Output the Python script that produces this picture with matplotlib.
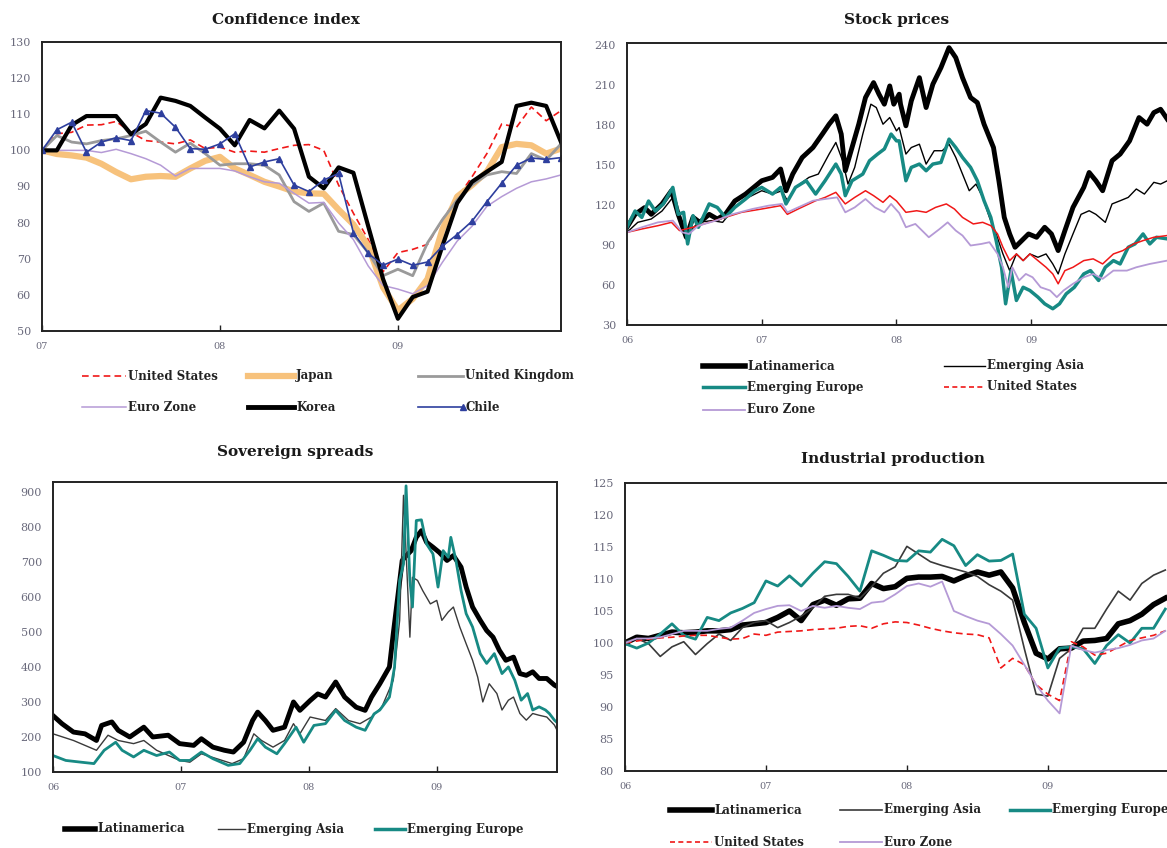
import numpy as np
import matplotlib
matplotlib.use("Agg")
from matplotlib import pyplot as plt
from matplotlib.lines import Line2D

# ---- Confidence index (monthly, Jan 07 - Dec 09) ----
conf_months = np.arange(36)
conf_us = [100, 104.6, 105, 107, 107.1, 108, 105, 102.7, 102.3, 101.8, 102.9, 100.5,
           100.9, 99.5, 99.8, 99.5, 100.5, 101.4, 101.6, 100, 90.4, 82.6, 75.3, 66.4,
           71.7, 72.6, 74, 80.8, 86.8, 92.7, 99.1, 107.3, 106.4, 112, 108.2, 111]
conf_japan = [100, 99, 98.6, 98, 96.3, 94, 92, 92.7, 92.9, 92.7, 95, 97.1,
              98.2, 95, 93.2, 91.3, 90, 88.6, 88.1, 88, 83.6, 79.5, 73.5, 62.1,
              55.7, 58.9, 64.4, 78.1, 87.2, 90.4, 94.1, 100.9, 101.8, 101.4, 99.1, 100.5]
conf_uk = [100, 104.1, 102.3, 101.8, 102.7, 103.2, 104.1, 105.3, 102.3, 99.5, 102, 99.1,
           95.9, 96.3, 96.3, 95.9, 93.2, 85.8, 83.1, 85.4, 77.6, 76.7, 71.7, 65.3,
           67.1, 65.3, 74.4, 80.8, 86.3, 90.4, 93.2, 94.1, 93.6, 99.1, 97.3, 101.8]
conf_euro = [100, 100, 100, 100, 99.4, 100.3, 99.1, 97.7, 95.9, 92.9, 95, 95,
             95, 94.3, 92.7, 91.3, 90.9, 88.1, 85.4, 85.6, 79.9, 75.3, 68, 62.6,
             61.6, 60.3, 62.6, 69, 74.9, 79, 84.5, 87.2, 89.5, 91.3, 92.1, 93.2]
conf_korea = [100, 100, 107, 109.5, 109.5, 109.5, 104.5, 107.3, 114.6, 113.7, 112.3, 109.1,
              106, 101.4, 108.4, 106.1, 111, 106, 92.7, 89.5, 95.3, 93.8, 79, 64.4,
              53.4, 59.4, 60.9, 73.5, 85.4, 91.3, 94.1, 96.8, 112.3, 113.2, 112.3, 102.3]
conf_chile = [100, 105.7, 107.8, 99.5, 102.3, 103.5, 102.7, 111, 110.3, 106.4, 100.5, 100.3,
              101.8, 104.6, 95.4, 96.8, 97.7, 90.4, 88.6, 91.8, 93.6, 77.2, 71.5, 68.2,
              69.9, 68.2, 69.1, 73.5, 76.7, 80.4, 85.8, 90.9, 95.9, 97.9, 97.5, 98]

# ---- Stock prices (years since Jan 06) ----
stk_latam_t = [0, 0.06, 0.13, 0.18, 0.26, 0.33, 0.38, 0.44, 0.49, 0.54, 0.61, 0.67, 0.73, 0.80,
               0.88, 0.94, 1.00, 1.08, 1.14, 1.18, 1.23, 1.30, 1.38, 1.45, 1.50, 1.55, 1.59, 1.62,
               1.67, 1.72, 1.77, 1.83, 1.87, 1.91, 1.95, 1.98, 2.02, 2.03, 2.07, 2.11, 2.17, 2.22,
               2.27, 2.33, 2.39, 2.44, 2.49, 2.55, 2.60, 2.65, 2.72, 2.76, 2.80, 2.84, 2.88, 2.93,
               2.98, 3.04, 3.10, 3.15, 3.20, 3.25, 3.31, 3.39, 3.43, 3.48, 3.53, 3.60, 3.66, 3.73,
               3.80, 3.86, 3.91, 3.96, 4.01]
stk_latam = [103.3, 113, 118, 113, 120.8, 130.7, 113, 95.8, 110.8, 107, 113, 109.5, 113, 123,
             128.2, 133.2, 138.2, 140.7, 147, 130.7, 143.2, 155.6, 163.1, 173.2, 180.6, 186.9, 173.2, 145.7,
             163.1, 180.6, 200.6, 211.8, 203.1, 195.6, 209.3, 195.6, 203.1, 195.6, 179.4, 198.1, 215.5, 193.1,
             210.6, 223, 238, 230.5, 215.5, 200.6, 196.8, 180.6, 163.1, 138.2, 110.7, 98.3, 88.3, 93.3,
             98.3, 95.8, 103.3, 98.3, 85.8, 100.8, 118.2, 133.2, 144.4, 138.2, 130.7, 153.2, 158.2, 168.1,
             185.6, 180.6, 189.3, 191.8, 184.4]
stk_asia_t = [0, 0.08, 0.18, 0.26, 0.34, 0.39, 0.46, 0.53, 0.63, 0.71, 0.80, 0.90, 1.00, 1.08,
              1.15, 1.19, 1.25, 1.35, 1.42, 1.50, 1.55, 1.60, 1.64, 1.69, 1.75, 1.81, 1.85, 1.90,
              1.95, 2.00, 2.02, 2.07, 2.11, 2.17, 2.22, 2.28, 2.34, 2.39, 2.44, 2.49, 2.54, 2.59,
              2.64, 2.69, 2.74, 2.79, 2.84, 2.89, 2.94, 2.99, 3.05, 3.11, 3.16, 3.20, 3.25, 3.31,
              3.37, 3.43, 3.48, 3.55, 3.60, 3.66, 3.72, 3.78, 3.84, 3.91, 3.96, 4.01]
stk_asia = [99.5, 107, 109.5, 115.5, 125.7, 108.3, 99.5, 107, 108.3, 107, 118.2, 125.7, 130.7, 128.2,
            130.7, 123.2, 133.2, 140.7, 143.2, 158.2, 166.9, 153.2, 135.7, 148.2, 173.2, 195.6, 193.1, 180.6,
            185.6, 175.6, 178.1, 158.2, 163.1, 165.6, 150.7, 160.7, 160.7, 165.7, 155.7, 143.2, 130.7, 135.7,
            125.7, 110.7, 98.3, 83.3, 70.8, 83.3, 78.3, 83.3, 80.8, 83.3, 75.8, 68.3, 83.3, 98.3,
            113, 115.7, 113, 107, 120.8, 123.2, 125.7, 132, 128.2, 137, 135.7, 138.2]
stk_eeur_t = [0, 0.06, 0.11, 0.16, 0.21, 0.27, 0.34, 0.38, 0.42, 0.45, 0.49, 0.53, 0.61, 0.67,
              0.73, 0.80, 0.88, 0.95, 1.00, 1.08, 1.14, 1.18, 1.25, 1.33, 1.40, 1.47, 1.55, 1.59,
              1.62, 1.67, 1.75, 1.80, 1.86, 1.91, 1.96, 2.00, 2.02, 2.07, 2.11, 2.17, 2.22, 2.27,
              2.33, 2.39, 2.44, 2.49, 2.55, 2.60, 2.65, 2.70, 2.74, 2.78, 2.81, 2.85, 2.89, 2.94,
              2.99, 3.05, 3.10, 3.16, 3.21, 3.26, 3.32, 3.39, 3.44, 3.50, 3.55, 3.61, 3.66, 3.72,
              3.77, 3.83, 3.88, 3.93, 4.01]
stk_eeur = [103.3, 115.5, 110.7, 123, 115.5, 120.8, 133.2, 113, 114.5, 90.8, 112, 103.3, 120.8, 118.2,
            110.7, 118.2, 124.5, 130.7, 133.2, 128.2, 133.2, 120.8, 133.2, 138.2, 128.2, 138.2, 150.7, 143.2,
            127, 138.2, 143.2, 153.2, 158.2, 162, 173.2, 168.1, 168.1, 138.2, 148.2, 150.7, 145.7, 150.7,
            151.9, 169.4, 163.1, 155.7, 148.2, 138.2, 123.2, 110.7, 93.3, 73.3, 45.9, 70.8, 48.4, 58.3,
            55.9, 50.9, 45.9, 42.2, 45.9, 53.4, 58.3, 68.3, 70.8, 63.4, 73.3, 78.3, 75.8, 88.3,
            90.8, 98.3, 90.8, 95.8, 94.6]
stk_us_t = [0, 0.11, 0.23, 0.33, 0.39, 0.49, 0.61, 0.73, 0.85, 1.00, 1.14, 1.19, 1.27, 1.40,
            1.47, 1.55, 1.62, 1.69, 1.77, 1.83, 1.90, 1.95, 2.00, 2.07, 2.15, 2.22, 2.29, 2.37,
            2.43, 2.49, 2.57, 2.64, 2.70, 2.75, 2.79, 2.84, 2.89, 2.94, 2.99, 3.05, 3.11, 3.16,
            3.20, 3.25, 3.31, 3.39, 3.46, 3.53, 3.61, 3.68, 3.76, 3.83, 3.91, 4.01]
stk_us = [99.5, 102, 104.5, 107, 100.8, 103.3, 107, 110.7, 114.5, 117, 119.5, 113, 117, 123.2,
          125.7, 129.5, 120.8, 125.7, 130.7, 127, 122, 127, 123, 114.5, 115.7, 114.5, 118.2, 120.8,
          117, 110.7, 105.8, 107, 104.5, 98.3, 88.3, 78.3, 83.3, 78.3, 83.3, 78.3, 73.3, 68.3,
          60.9, 70.8, 73.3, 78.3, 79.6, 75.8, 83.3, 85.8, 90.8, 93.3, 95.8, 97.1]
stk_euro_t = [0, 0.11, 0.23, 0.34, 0.41, 0.46, 0.53, 0.66, 0.78, 0.93, 1.05, 1.15, 1.19, 1.27,
              1.38, 1.47, 1.56, 1.62, 1.69, 1.77, 1.84, 1.91, 1.96, 2.02, 2.07, 2.14, 2.19, 2.24,
              2.32, 2.38, 2.44, 2.49, 2.55, 2.63, 2.69, 2.75, 2.79, 2.83, 2.86, 2.91, 2.96, 3.01,
              3.07, 3.14, 3.19, 3.24, 3.31, 3.39, 3.46, 3.53, 3.61, 3.71, 3.78, 3.88, 4.01]
stk_euro = [99.5, 103.3, 107, 108.3, 99.5, 98.3, 104.5, 108.3, 113, 117, 119.5, 120.8, 114.5, 118.2,
            123.2, 124.5, 125.7, 114.5, 118.2, 124.5, 118.2, 114.5, 120.8, 114, 103.3, 105.8, 100.8, 95.8,
            102, 107, 100.8, 97.1, 89.6, 90.8, 92.1, 83.3, 73.3, 58.3, 73.3, 63.4, 68.3, 65.8,
            58.3, 55.9, 50.9, 55.9, 60.9, 65.8, 68.3, 64.6, 70.8, 70.8, 73.3, 75.8, 78.3]

# ---- Sovereign spreads (years since Jan 06) ----
spr_latam_t = [0, 0.07, 0.16, 0.25, 0.34, 0.38, 0.46, 0.51, 0.60, 0.71, 0.78, 0.90, 0.99, 1.10,
               1.16, 1.25, 1.34, 1.41, 1.49, 1.56, 1.60, 1.66, 1.72, 1.81, 1.88, 1.93, 2.01, 2.07,
               2.13, 2.21, 2.28, 2.37, 2.44, 2.49, 2.555, 2.63, 2.66, 2.73, 2.75, 2.80, 2.84, 2.88,
               2.92, 2.97, 3.02, 3.08, 3.13, 3.19, 3.23, 3.28, 3.34, 3.39, 3.44, 3.49, 3.54, 3.60,
               3.65, 3.70, 3.75, 3.80, 3.86, 3.92, 3.96]
spr_latam = [261, 238, 214, 209, 190, 233, 243, 219, 200, 228, 200, 205, 181, 176,
             195, 171, 162, 157, 185, 247, 271, 247, 219, 228, 300, 276, 304, 323,
             314, 357, 314, 285, 276, 314, 352, 400, 495, 704, 713, 732, 770, 789,
             756, 742, 727, 704, 718, 685, 628, 571, 533, 504, 485, 447, 419, 428,
             381, 376, 386, 367, 367, 348, 340]
spr_asia_t = [0, 0.16, 0.34, 0.43, 0.51, 0.63, 0.71, 0.81, 0.99, 1.07, 1.16, 1.28, 1.40, 1.49,
              1.57, 1.63, 1.72, 1.81, 1.88, 1.93, 2.01, 2.13, 2.21, 2.31, 2.40, 2.49, 2.57, 2.66,
              2.71, 2.74, 2.79, 2.81, 2.85, 2.89, 2.95, 3.00, 3.04, 3.09, 3.13, 3.18, 3.23, 3.28,
              3.32, 3.36, 3.41, 3.47, 3.51, 3.56, 3.60, 3.65, 3.70, 3.75, 3.80, 3.86, 3.92, 3.96]
spr_asia = [209, 190, 162, 205, 190, 181, 190, 162, 133, 128, 152, 138, 124, 138,
            209, 190, 171, 190, 238, 209, 257, 247, 281, 247, 238, 257, 285, 362,
            533, 890, 485, 656, 647, 618, 580, 590, 533, 557, 571, 514, 466, 419,
            371, 300, 352, 324, 277, 305, 314, 267, 248, 267, 262, 257, 234, 205]
spr_eeur_t = [0, 0.10, 0.22, 0.32, 0.40, 0.49, 0.54, 0.63, 0.71, 0.81, 0.91, 0.99, 1.07, 1.16,
              1.25, 1.37, 1.46, 1.54, 1.60, 1.66, 1.75, 1.81, 1.90, 1.96, 2.04, 2.13, 2.21, 2.28,
              2.37, 2.44, 2.51, 2.555, 2.63, 2.67, 2.71, 2.74, 2.76, 2.79, 2.81, 2.84, 2.88, 2.92,
              2.97, 3.01, 3.05, 3.09, 3.11, 3.15, 3.19, 3.23, 3.28, 3.34, 3.39, 3.45, 3.51, 3.56,
              3.61, 3.66, 3.71, 3.75, 3.80, 3.85, 3.88, 3.92, 3.96]
spr_eeur = [147, 133, 128, 124, 162, 185, 162, 143, 162, 147, 157, 133, 133, 157,
            138, 119, 124, 162, 195, 171, 152, 181, 228, 185, 233, 238, 276, 247,
            228, 219, 266, 277, 314, 400, 647, 694, 917, 647, 571, 818, 820, 751,
            723, 628, 732, 713, 770, 704, 618, 552, 514, 438, 410, 438, 381, 400,
            362, 305, 324, 277, 286, 277, 267, 248, 235]

# ---- Industrial production (monthly from Jan 06) ----
ind_months = np.arange(47)
ind_latam = [100, 100.9, 100.7, 101.2, 101.7, 101.6, 101.7, 101.9, 101.9, 102.1, 102.8, 103, 103.2,
             104, 105, 103.5, 106, 106.7, 105.9, 106.9, 107, 109.3, 108.5, 108.8, 110.1, 110.3,
             110.3, 110.4, 109.7, 110.5, 111.1, 110.6, 111.1, 108.6, 103.2, 98.4, 97.5, 99.1,
             99.2, 100.3, 100.4, 100.7, 103, 103.5, 104.5, 106, 107]
ind_asia = [100.2, 100.7, 99.9, 97.9, 99.4, 100.2, 98.2, 99.9, 101.4, 100.4, 102.4, 103.2, 103.5,
            102.4, 103.2, 104.2, 105.5, 107.3, 107.6, 107.6, 107, 108.8, 110.9, 111.9, 115.1,
            113.9, 112.7, 112.1, 111.6, 111.1, 110.4, 109.1, 108.1, 106.7, 99.1, 92, 91.7, 97.6,
            99.1, 102.3, 102.3, 105.3, 108.1, 106.7, 109.3, 110.6, 111.4]
ind_eeur = [99.9, 99.2, 100, 101.4, 103, 101.2, 100.6, 104, 103.5, 104.7, 105.4, 106.3, 109.7,
            108.9, 110.5, 108.9, 110.9, 112.7, 112.4, 110.4, 108.1, 114.4, 113.7, 112.9, 112.8,
            114.4, 114.2, 116.2, 115.2, 112.1, 113.8, 112.8, 112.9, 113.9, 104.5, 102.3, 96.1,
            99.2, 99.4, 99.1, 96.8, 99.6, 101.3, 100, 102.3, 102.3, 105.3]
ind_us = [100, 100.3, 100.6, 100.8, 100.9, 101.1, 101.2, 101.2, 100.9, 100.6, 100.7, 101.4, 101.2,
          101.7, 101.8, 101.9, 102.1, 102.2, 102.3, 102.6, 102.7, 102.3, 103, 103.3, 103.2,
          102.8, 102.3, 101.9, 101.6, 101.4, 101.3, 100.8, 96.1, 97.6, 96.6, 93.5, 92, 91,
          100.2, 99.4, 98.1, 98.4, 99.4, 100.4, 100.8, 101.2, 101.9]
ind_euro = [100, 100.7, 100.7, 100.9, 101.4, 101.9, 101.9, 101.9, 102.2, 102.4, 103.5, 104.7,
            105.3, 105.8, 105.9, 105, 105.8, 105.5, 105.8, 105.5, 105.3, 106.3, 106.5, 107.6,
            108.9, 109.3, 108.8, 109.6, 105, 104.2, 103.5, 103, 101.4, 99.6, 96.6, 93.5, 91,
            89, 99.6, 98.9, 98.5, 98.9, 99.2, 99.7, 100.4, 100.7, 101.9]

year_labels = ['06', '07', '08', '09']

RED = '#f01818'
ORANGE = '#f7c27c'
GRAY = '#9a9a9a'
LAV = '#b59ad6'
BLUE = '#2e3f9e'
TEAL = '#178a84'
DGRAY = '#3a3a3a'
TICKC = '#6a6a7c'

W, H = 1167, 848
fig = plt.figure(figsize=(W / 100, H / 100), dpi=100)


def px_axes(l, t, r, b):
    return fig.add_axes([l / W, 1 - b / H, (r - l) / W, (b - t) / H])


def style(ax):
    for s in ax.spines.values():
        s.set_linewidth(1.4)
        s.set_color('#222222')
    ax.tick_params(axis='y', length=0, labelsize=8, colors=TICKC, pad=8)
    ax.tick_params(axis='x', direction='in', length=4, width=1, color='#222222',
                   labelsize=7, labelcolor=TICKC, pad=8)
    for lab in ax.get_xticklabels() + ax.get_yticklabels():
        lab.set_family('DejaVu Serif')


def title(x, y, s):
    fig.text(x / W, 1 - y / H, s, ha='center', va='center', family='DejaVu Serif',
             fontweight='bold', fontsize=11, color='#1a1a1a')


def leg(x0, x1, y, label, **kw):
    fig.add_artist(Line2D([x0 / W, x1 / W], [1 - y / H, 1 - y / H], transform=fig.transFigure, **kw))
    fig.text((x1 + 2) / W, 1 - y / H, label, ha='left', va='center', family='DejaVu Serif',
             fontweight='bold', fontsize=8.5, color='#222222')


# Confidence index
ax1 = px_axes(42, 42, 561, 331)
ax1.plot(conf_months, conf_us, color=RED, lw=1.2, dashes=(4, 2.5))
ax1.plot(conf_months, conf_japan, color=ORANGE, lw=4.5)
ax1.plot(conf_months, conf_uk, color=GRAY, lw=2)
ax1.plot(conf_months, conf_euro, color=LAV, lw=1.1)
ax1.plot(conf_months, conf_korea, color='black', lw=3)
ax1.plot(conf_months, conf_chile, color=BLUE, lw=1.2, marker='^', ms=4)
ax1.set_xlim(0, 35)
ax1.set_ylim(50, 130)
ax1.set_yticks(range(50, 131, 10))
ax1.set_xticks([0, 12, 24])
ax1.set_xticklabels(year_labels[1:])
style(ax1)
title(286, 20, 'Confidence index')
leg(82, 126, 376, 'United States', color=RED, lw=1.2, dashes=(4, 2.5))
leg(248, 294, 376, 'Japan', color=ORANGE, lw=4.5)
leg(418, 463, 376, 'United Kingdom', color=GRAY, lw=2)
leg(82, 126, 407, 'Euro Zone', color=LAV, lw=1.1)
leg(248, 294, 407, 'Korea', color='black', lw=3.5)
leg(418, 463, 407, 'Chile', color=BLUE, lw=1.2, marker='^', ms=4, markevery=[1])

# Stock prices
ax2 = px_axes(627, 43, 1170, 325)
ax2.plot(stk_latam_t, stk_latam, color='black', lw=3.5)
ax2.plot(stk_asia_t, stk_asia, color='black', lw=1)
ax2.plot(stk_eeur_t, stk_eeur, color=TEAL, lw=2.5)
ax2.plot(stk_us_t, stk_us, color=RED, lw=1.1)
ax2.plot(stk_euro_t, stk_euro, color=LAV, lw=1.3)
ax2.set_xlim(0, 4.03)
ax2.set_ylim(30, 241.5)
ax2.set_yticks(range(30, 241, 30))
ax2.set_xticks([0, 1, 2, 3])
ax2.set_xticklabels(year_labels)
style(ax2)
title(897, 20, 'Stock prices')
leg(703, 745, 366, 'Latinamerica', color='black', lw=4)
leg(944, 985, 366, 'Emerging Asia', color='black', lw=1)
leg(703, 745, 387, 'Emerging Europe', color=TEAL, lw=2.5)
leg(944, 985, 387, 'United States', color=RED, lw=1.2, dashes=(3, 2))
leg(703, 745, 410, 'Euro Zone', color=LAV, lw=1.3)

# Sovereign spreads
ax3 = px_axes(53, 482, 557, 772)
ax3.plot(spr_latam_t, spr_latam, color='black', lw=3.5)
ax3.plot(spr_asia_t, spr_asia, color=DGRAY, lw=1)
ax3.plot(spr_eeur_t, spr_eeur, color=TEAL, lw=2)
ax3.set_xlim(0, 3.94)
ax3.set_ylim(100, 928)
ax3.set_yticks(range(100, 901, 100))
ax3.set_xticks([0, 1, 2, 3])
ax3.set_xticklabels(year_labels)
style(ax3)
title(295, 452, 'Sovereign spreads')
leg(65, 95, 829, 'Latinamerica', color='black', lw=4)
leg(218, 245, 829, 'Emerging Asia', color=DGRAY, lw=1)
leg(375, 405, 829, 'Emerging Europe', color=TEAL, lw=2.5)

# Industrial production
ax4 = px_axes(625, 483, 1170, 771)
ax4.plot(ind_months, ind_latam, color='black', lw=4)
ax4.plot(ind_months, ind_asia, color=DGRAY, lw=1.2)
ax4.plot(ind_months, ind_eeur, color=TEAL, lw=2)
ax4.plot(ind_months, ind_us, color=RED, lw=1.2, dashes=(4, 2.5))
ax4.plot(ind_months, ind_euro, color=LAV, lw=1.3)
ax4.set_xlim(0, 46.4)
ax4.set_ylim(80, 125)
ax4.set_yticks(range(80, 126, 5))
ax4.set_xticks([0, 12, 24, 36])
ax4.set_xticklabels(year_labels)
style(ax4)
title(893, 459, 'Industrial production')
leg(670, 712, 810, 'Latinamerica', color='black', lw=4)
leg(840, 882, 810, 'Emerging Asia', color=DGRAY, lw=1.2)
leg(1010, 1050, 810, 'Emerging Europe', color=TEAL, lw=2.5)
leg(670, 712, 842, 'United States', color=RED, lw=1.2, dashes=(3, 2))
leg(840, 882, 842, 'Euro Zone', color=LAV, lw=1.3)

fig.savefig('out.png', dpi=100)
